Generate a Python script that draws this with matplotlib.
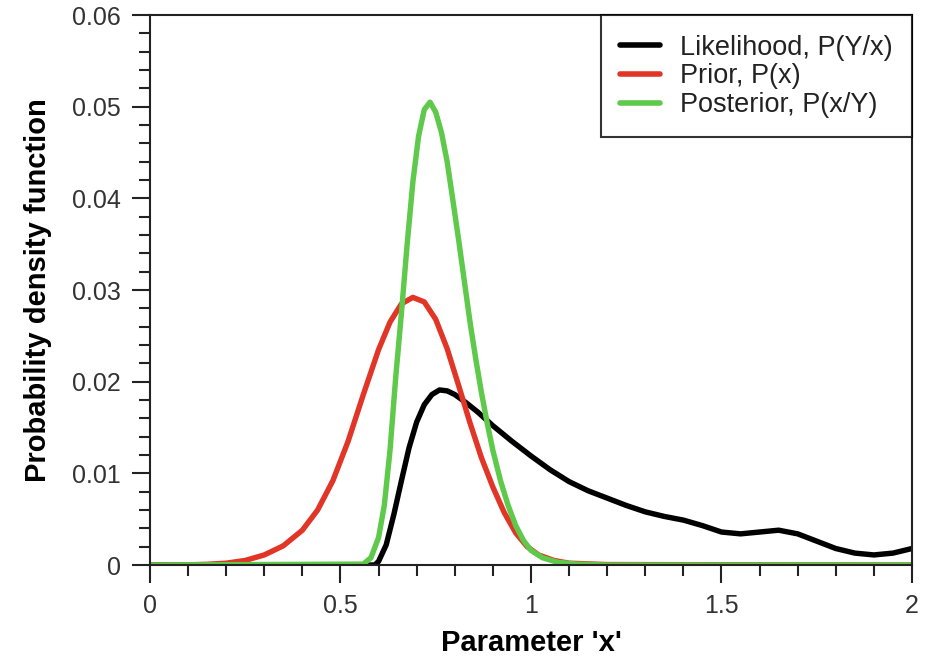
import matplotlib.pyplot as plt
from matplotlib.ticker import MultipleLocator

plt.rcParams["font.family"] = ["Liberation Sans", "DejaVu Sans"]

# values
prior_x = [0.0, 0.1, 0.15, 0.2, 0.25, 0.3, 0.35, 0.4, 0.44, 0.48, 0.52, 0.56, 0.6,
           0.63, 0.66, 0.69, 0.72, 0.75, 0.78, 0.81, 0.84, 0.87, 0.9, 0.93, 0.96,
           0.99, 1.02, 1.06, 1.1, 1.2, 2.0]
prior_y = [0.0, 0.00002, 0.00008, 0.0002, 0.0005, 0.0011, 0.0021, 0.0038, 0.006,
           0.0092, 0.0135, 0.0186, 0.0235, 0.0265, 0.0285, 0.0292, 0.0287, 0.0268,
           0.0236, 0.0196, 0.0155, 0.0117, 0.0085, 0.0057, 0.0035, 0.002, 0.0011,
           0.0005, 0.0002, 0.00005, 0.0]

like_x = [0.0, 0.59, 0.6, 0.62, 0.64, 0.66, 0.68, 0.7, 0.72, 0.74, 0.76, 0.78, 0.8,
          0.83, 0.86, 0.9, 0.95, 1.0, 1.05, 1.1, 1.15, 1.2, 1.25, 1.3, 1.35, 1.4,
          1.45, 1.5, 1.55, 1.6, 1.65, 1.7, 1.75, 1.8, 1.85, 1.9, 1.95, 2.0]
like_y = [0.0, 0.0, 0.0004, 0.0022, 0.0055, 0.0092, 0.0128, 0.0156, 0.0175, 0.0186,
          0.0191, 0.019, 0.0186, 0.0177, 0.0167, 0.0152, 0.0135, 0.0119, 0.0104,
          0.0091, 0.0081, 0.0073, 0.0065, 0.0058, 0.0053, 0.0049, 0.0043, 0.0036,
          0.0034, 0.0036, 0.0038, 0.0034, 0.0026, 0.0018, 0.0013, 0.0011, 0.0013,
          0.0018]

post_x = [0.0, 0.56, 0.58, 0.6, 0.615, 0.63, 0.645, 0.66, 0.675, 0.69, 0.705, 0.72,
          0.735, 0.75, 0.765, 0.78, 0.795, 0.81, 0.825, 0.84, 0.855, 0.87, 0.885,
          0.9, 0.92, 0.94, 0.96, 0.98, 1.0, 1.03, 1.07, 1.12, 1.2, 2.0]
post_y = [0.0, 0.0001, 0.0008, 0.003, 0.0065, 0.0125, 0.0205, 0.0275, 0.035, 0.0418,
          0.0468, 0.0497, 0.0505, 0.0494, 0.0472, 0.044, 0.0398, 0.0355, 0.031,
          0.0265, 0.0225, 0.0188, 0.0155, 0.0125, 0.0092, 0.0065, 0.0043, 0.0027,
          0.0016, 0.0008, 0.0003, 0.0001, 0.0, 0.0]

xticks = [0, 0.5, 1, 1.5, 2]
xtick_labels = ["0", "0.5", "1", "1.5", "2"]
yticks = [0, 0.01, 0.02, 0.03, 0.04, 0.05, 0.06]
ytick_labels = ["0", "0.01", "0.02", "0.03", "0.04", "0.05", "0.06"]

fig = plt.figure(figsize=(9.35, 6.61), dpi=100)
ax = fig.add_axes([0.1604, 0.1452, 0.815, 0.832])

kw = dict(lw=3.9, solid_joinstyle="round", solid_capstyle="round")
ax.plot(like_x, like_y, color="black", label="Likelihood, P(Y/x)", **kw)
ax.plot(prior_x, prior_y, color="#e03527", label="Prior, P(x)", **kw)
ax.plot(post_x, post_y, color="#5ec94a", label="Posterior, P(x/Y)", **kw)

ax.set_xlim(0, 2)
ax.set_ylim(0, 0.06)
ax.set_xticks(xticks)
ax.set_xticklabels(xtick_labels)
ax.set_yticks(yticks)
ax.set_yticklabels(ytick_labels)
ax.xaxis.set_minor_locator(MultipleLocator(0.1))
ax.yaxis.set_minor_locator(MultipleLocator(0.002))
ax.tick_params(which="major", direction="out", length=13, width=1.5,
               labelsize=18, pad=8, colors="#222222", labelcolor="#333333")
ax.tick_params(which="minor", direction="out", length=8, width=1.5, colors="#222222")
for s in ax.spines.values():
    s.set_linewidth(1.5)
    s.set_color("#222222")

ax.set_xlabel("Parameter 'x'", fontsize=21, fontweight="bold", labelpad=8)
ax.set_ylabel("Probability density function", fontsize=21, fontweight="bold",
              labelpad=14)

leg = ax.legend(loc="upper right", fontsize=19.5, frameon=True, fancybox=False,
                edgecolor="black", handlelength=1.45, handletextpad=0.75,
                borderpad=0.72, labelspacing=0.1, borderaxespad=0.0)
leg.get_frame().set_linewidth(1.5)
for line in leg.get_lines():
    line.set_linewidth(4)
for t in leg.get_texts():
    t.set_color("#222222")

fig.savefig("out.png", dpi=100)
